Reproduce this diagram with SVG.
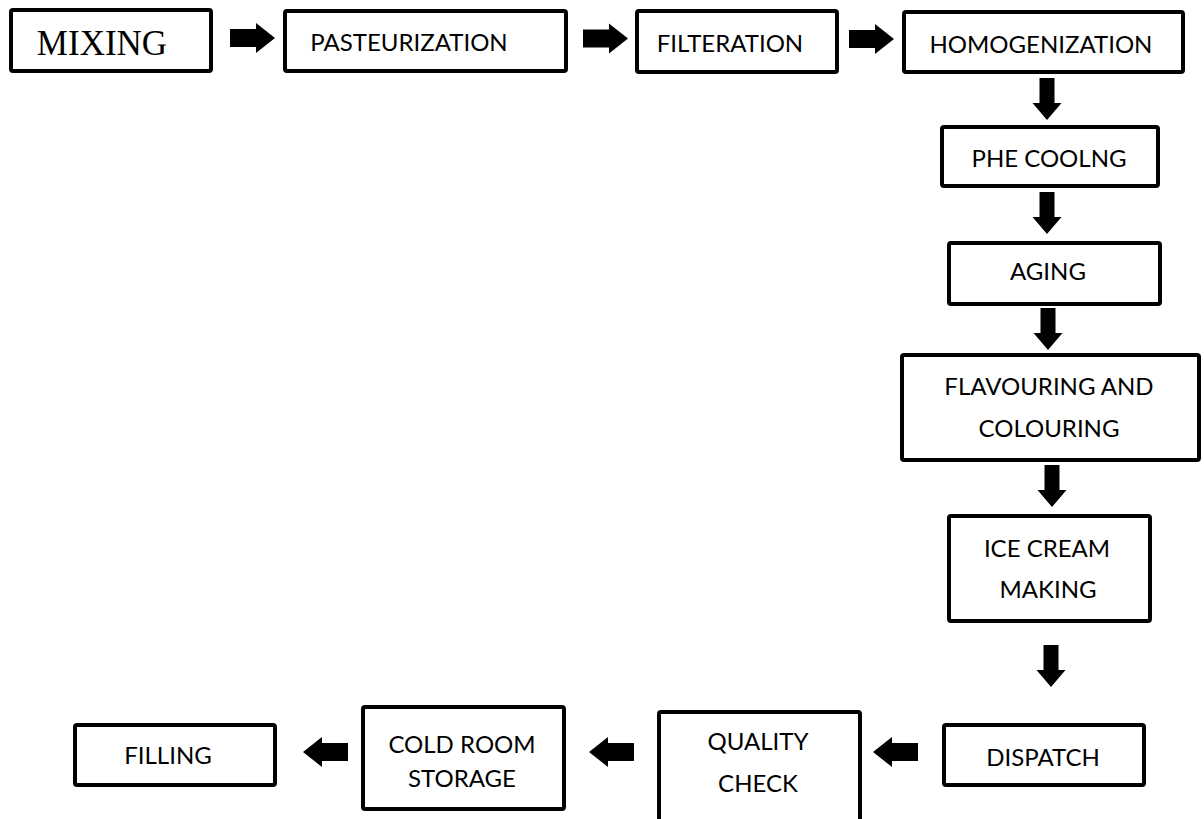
<svg xmlns="http://www.w3.org/2000/svg" width="1204" height="819" viewBox="0 0 1204 819">
  <style>
    .box { fill: #ffffff; stroke: #000000; stroke-width: 4; }
    .lbl { font-family: Lato, "Open Sans", "Liberation Sans", sans-serif; font-size: 24px; fill: #000000; text-anchor: middle; }
    .serif { font-family: "Liberation Serif", "Times New Roman", serif; font-size: 35px; fill: #000000; text-anchor: middle; }
    .arr { fill: #000000; }
  </style>
  <defs>
    <path id="harrow" d="M0,-9 H26 V-15 L45,0 L26,15 V9 H0 Z"/>
    <path id="varrow" d="M-7.5,0 V25 H-14.5 L0,42 L14.5,25 H7.5 V0 Z"/>
  </defs>
  <rect x="0" y="0" width="1204" height="819" fill="#ffffff"/>

  <g id="connectors" class="arr">
    <use href="#harrow" transform="translate(230,38)"/>
    <use href="#harrow" transform="translate(583,38.5)"/>
    <use href="#harrow" transform="translate(849,39)"/>
    <use href="#varrow" transform="translate(1047,78)"/>
    <use href="#varrow" transform="translate(1047,192)"/>
    <use href="#varrow" transform="translate(1048,308)"/>
    <use href="#varrow" transform="translate(1052,465)"/>
    <use href="#varrow" transform="translate(1051,645)"/>
    <use href="#harrow" transform="translate(918,752) rotate(180)"/>
    <use href="#harrow" transform="translate(634,752) rotate(180)"/>
    <use href="#harrow" transform="translate(348,752) rotate(180)"/>
  </g>

  <g id="mixing">
    <rect class="box" x="11" y="10" width="200" height="61" rx="2"/>
    <text class="serif" x="102" y="55">MIXING</text>
  </g>
  <g id="pasteurization">
    <rect class="box" x="285" y="11" width="281" height="60" rx="2"/>
    <text class="lbl" x="409" y="51">PASTEURIZATION</text>
  </g>
  <g id="filteration">
    <rect class="box" x="637" y="11" width="200" height="61" rx="2"/>
    <text class="lbl" x="730" y="52">FILTERATION</text>
  </g>
  <g id="homogenization">
    <rect class="box" x="904" y="12" width="279" height="60" rx="2"/>
    <text class="lbl" x="1041" y="53">HOMOGENIZATION</text>
  </g>
  <g id="phe-cooling">
    <rect class="box" x="942" y="127" width="216" height="59" rx="2"/>
    <text class="lbl" x="1049" y="167">PHE COOLNG</text>
  </g>
  <g id="aging">
    <rect class="box" x="949" y="243" width="211" height="61" rx="2"/>
    <text class="lbl" x="1048" y="280">AGING</text>
  </g>
  <g id="flavouring">
    <rect class="box" x="902" y="355" width="297" height="105" rx="2"/>
    <text class="lbl" x="1049" y="395">FLAVOURING AND</text>
    <text class="lbl" x="1049" y="437">COLOURING</text>
  </g>
  <g id="ice-cream">
    <rect class="box" x="949" y="516" width="201" height="105" rx="2"/>
    <text class="lbl" x="1047" y="557">ICE CREAM</text>
    <text class="lbl" x="1048" y="598">MAKING</text>
  </g>
  <g id="dispatch">
    <rect class="box" x="944" y="725" width="200" height="60" rx="2"/>
    <text class="lbl" x="1043" y="766">DISPATCH</text>
  </g>
  <g id="quality-check">
    <rect class="box" x="659" y="712" width="201" height="120" rx="2"/>
    <text class="lbl" x="758" y="750">QUALITY</text>
    <text class="lbl" x="758" y="792">CHECK</text>
  </g>
  <g id="cold-room">
    <rect class="box" x="363" y="707" width="201" height="102" rx="2"/>
    <text class="lbl" x="462" y="753">COLD ROOM</text>
    <text class="lbl" x="462" y="787">STORAGE</text>
  </g>
  <g id="filling">
    <rect class="box" x="75" y="725" width="200" height="60" rx="2"/>
    <text class="lbl" x="168" y="764">FILLING</text>
  </g>
</svg>
